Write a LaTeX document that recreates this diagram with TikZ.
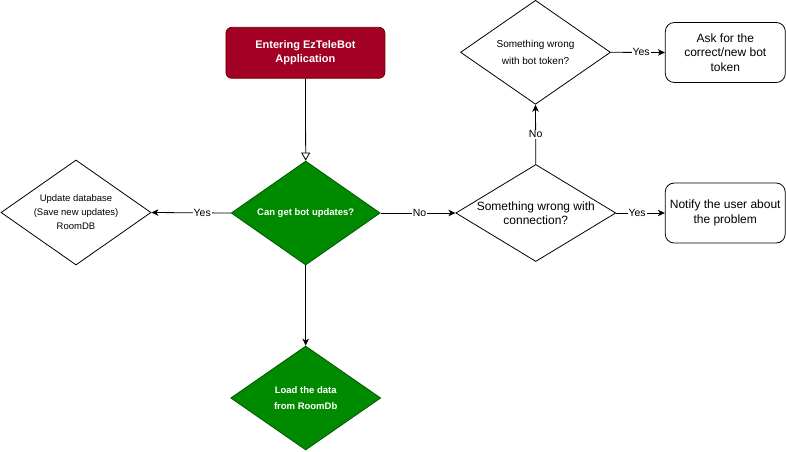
\documentclass[tikz,border=0pt]{standalone}
\usepackage{fontspec}
\setmainfont{Liberation Sans}
\usetikzlibrary{shapes.geometric,arrows.meta}
\definecolor{gfill}{HTML}{008A00}
\definecolor{gline}{HTML}{005700}
\definecolor{rfill}{HTML}{A20025}
\definecolor{rline}{HTML}{6F0000}
\tikzset{
  dia/.style={diamond, draw=black, line width=0.8pt, inner sep=0pt, fill=white},
  gdia/.style={diamond, draw=gline, fill=gfill, line width=0.8pt, inner sep=0pt},
  rbox/.style={rectangle, rounded corners=9pt, draw=black, line width=0.8pt, fill=white,
     minimum width=120pt, minimum height=60pt, inner sep=0pt, align=center,
     font=\fontsize{12}{14.5}\selectfont},
  txt12/.style={align=center, inner sep=0pt, font=\fontsize{12}{14.5}\selectfont},
  txt10/.style={align=center, inner sep=0pt, font=\fontsize{10}{17}\selectfont},
  txt95/.style={align=center, inner sep=0pt, font=\fontsize{9.5}{14}\selectfont},
  wbold/.style={align=center, inner sep=0pt, text=white, font=\fontsize{9.5}{15.5}\selectfont\bfseries},
  conn/.style={draw=black, line width=0.8pt, -{Stealth[length=7pt,width=6.5pt,inset=2pt]}},
  lbl/.style={fill=white, inner sep=1pt, font=\fontsize{10.5}{12}\selectfont},
}
\begin{document}
\begin{tikzpicture}[x=1pt,y=-1pt]
\useasboundingbox (0,0) rectangle (786,451);
% nodes
\node[rectangle, rounded corners=6pt, draw=rline, fill=rfill, line width=0.8pt,
      minimum width=159pt, minimum height=51pt, inner sep=0pt, align=center, text=white,
      font=\fontsize{11}{14.7}\selectfont\bfseries] (start) at (305.4,52.8) {Entering EzTeleBot\\Application};
\node[gdia, minimum width=149pt, minimum height=104pt,
      label={[wbold]center:Can get bot updates?}] (can) at (305.7,213) {};
\node[dia, minimum width=150pt, minimum height=105pt,
      label={[txt95]center:Update database\\(Save new updates)\\RoomDB}] (upd) at (76,212.5) {};
\node[dia, minimum width=160pt, minimum height=97pt,
      label={[txt12]center:Something wrong with\\connection?}] (wcon) at (535.8,213) {};
\node[rbox] (notify) at (725.2,213) {Notify the user about\\the problem};
\node[dia, minimum width=150pt, minimum height=104pt,
      label={[txt10]center:Something wrong\\with bot token?}] (tok) at (535.5,52.3) {};
\node[rbox] (ask) at (725.3,52.5) {Ask for the\\correct/new bot\\token};
\node[gdia, minimum width=150pt, minimum height=104pt,
      label={[wbold]center:Load the data\\from RoomDb}] (load) at (305.7,398) {};
% connectors
\draw[draw=black, line width=0.8pt, -{Triangle[open,length=8pt,width=9pt,fill=white]}] (start.south) -- (can.north);
\draw[conn] (can.west) -- node[lbl, pos=0.36] {Yes} (upd.east);
\draw[conn] (can.east) -- node[lbl, pos=0.52] {No} (wcon.west);
\draw[conn] (wcon.east) -- node[lbl, pos=0.43] {Yes} (notify.west);
\draw[conn] (wcon.north) -- node[lbl, pos=0.5] {No} (tok.south);
\draw[conn] (tok.east) -- node[lbl, pos=0.56] {Yes} (ask.west);
\draw[conn] (can.south) -- (load.north);
\end{tikzpicture}
\end{document}
